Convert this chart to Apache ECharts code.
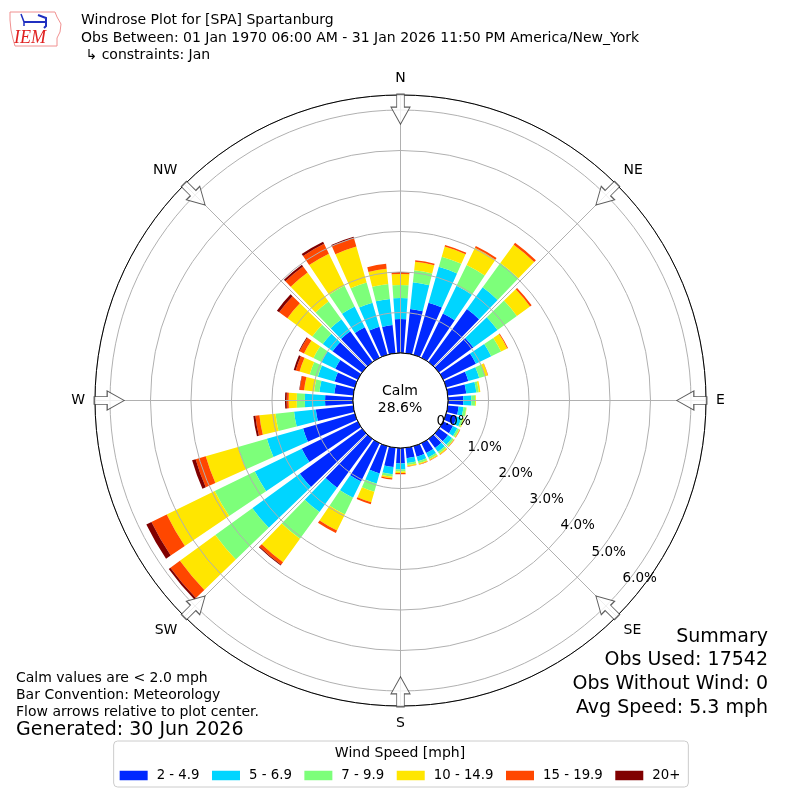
<!DOCTYPE html>
<html><head><meta charset="utf-8">
<script src="https://cdn.jsdelivr.net/npm/echarts@6/dist/echarts.min.js"></script>
<style>html,body{margin:0;padding:0;background:#fff}#c{width:800px;height:800px}</style>
</head><body><div id="c"></div>
<script>
// ---- data ----
const directions = ['0','10','20','30','40','50','60','70','80','90','100','110','120','130','140','150','160','170',
  '180','190','200','210','220','230','240','250','260','270','280','290','300','310','320','330','340','350'];
const speedBins = ['2 - 4.9','5 - 6.9','7 - 9.9','10 - 14.9','15 - 19.9','20+'];
// percent of observations per direction bin and speed bin
const s2to5   = [0.84,1.10,1.34,1.22,1.62,1.05,0.90,0.57,0.46,0.38,0.27,0.27,0.27,0.28,0.28,0.27,0.27,0.26,
                 0.38,0.48,0.70,1.05,1.49,1.90,1.54,1.33,0.93,0.69,0.47,0.52,0.62,0.90,0.94,0.84,0.72,0.70];
const s5to7   = [0.52,0.66,0.92,0.76,0.66,0.74,0.42,0.28,0.25,0.20,0.12,0.12,0.12,0.12,0.12,0.12,0.12,0.12,
                 0.15,0.18,0.26,0.45,0.74,1.45,1.29,0.93,0.54,0.50,0.37,0.43,0.38,0.30,0.37,0.57,0.62,0.65];
const s7to10  = [0.32,0.30,0.26,0.57,0.74,0.59,0.27,0.15,0.06,0.09,0.07,0.05,0.05,0.05,0.05,0.05,0.05,0.05,
                 0.05,0.06,0.21,0.46,0.82,1.13,1.10,0.74,0.46,0.20,0.13,0.21,0.22,0.32,0.54,0.57,0.52,0.37];
const s10to15 = [0.27,0.21,0.26,0.47,0.56,0.40,0.17,0.07,0.04,0.02,0.01,0.02,0.02,0.02,0.03,0.03,0.03,0.03,
                 0.04,0.04,0.27,0.44,0.71,1.08,1.32,0.83,0.40,0.20,0.25,0.26,0.26,0.76,0.88,0.88,0.92,0.38];
const s15to20 = [0.05,0.04,0.04,0.05,0.06,0.05,0.02,0.01,0.00,0.00,0.00,0.00,0.01,0.01,0.01,0.01,0.01,0.01,
                 0.03,0.03,0.05,0.07,0.08,0.29,0.42,0.26,0.10,0.05,0.11,0.10,0.12,0.25,0.19,0.27,0.22,0.12];
const s20plus = [0.00,0.00,0.00,0.00,0.00,0.00,0.00,0.00,0.00,0.00,0.00,0.00,0.00,0.00,0.00,0.00,0.00,0.00,
                 0.00,0.00,0.00,0.00,0.02,0.05,0.14,0.09,0.05,0.04,0.01,0.05,0.02,0.07,0.05,0.06,0.03,0.00];
const seriesValues = [s2to5, s5to7, s7to10, s10to15, s15to20, s20plus];
const binColors = ['#0029ff','#00d5ff','#7dff7a','#ffe600','#ff4700','#800000'];
const compassNames = ['N','NE','E','SE','S','SW','W','NW'];
const arrowDirs = [0,45,90,135,180,225,270,315];
const calmPct = '28.6%';
const titleLines = ['Windrose Plot for [SPA] Spartanburg',
  'Obs Between: 01 Jan 1970 06:00 AM - 31 Jan 2026 11:50 PM America/New_York',
  ' \u21b3 constraints: Jan'];
const noteLines = ['Calm values are < 2.0 mph','Bar Convention: Meteorology','Flow arrows relative to plot center.'];
const generated = 'Generated: 30 Jun 2026';
const summaryLines = ['Summary','Obs Used: 17542','Obs Without Wind: 0','Avg Speed: 5.3 mph'];

// ---- chart ----
const FONT = '"DejaVu Sans", sans-serif';
const C = [400.5, 400.5];
const R = [47.5, 305.5];
const RMAX = 6.37;
const chart = echarts.init(document.getElementById('c'), null, {renderer:'canvas'});
const hide = {axisLine:{show:false}, axisTick:{show:false}, axisLabel:{show:false}, splitLine:{show:false}};
const arrowPath = 'path://M6,0 L14,0 L14,13 L20,13 L10,30 L0,13 L6,13 Z';

const option = {
  animation:false,
  textStyle:{fontFamily:FONT},
  polar:[{center:C, radius:R},{center:C, radius:R},{center:C, radius:R}],
  angleAxis:[
    Object.assign({polarIndex:0, type:'category', data:directions, startAngle:95, clockwise:true, boundaryGap:true}, hide),
    {polarIndex:1, type:'value', min:0, max:360, interval:45, startAngle:90, clockwise:true, z:5,
     axisLine:{show:true, lineStyle:{color:'#000', width:1}}, axisTick:{show:false},
     axisLabel:{show:true, margin:10, fontSize:14, color:'#000', fontFamily:FONT,
       align:'center', verticalAlign:'middle',
       formatter:v => (v < 360 && compassNames[Math.round(v/45)] !== undefined) ? compassNames[Math.round(v/45)] : ''},
     splitLine:{show:true, lineStyle:{color:'#b0b0b0', width:1}}},
    Object.assign({polarIndex:2, type:'value', min:0, max:360, startAngle:-40, clockwise:true}, hide)
  ],
  radiusAxis:[
    Object.assign({polarIndex:0, type:'value', min:0, max:RMAX}, hide),
    {polarIndex:1, type:'value', min:0, max:RMAX, interval:1, z:4,
     axisLine:{show:false}, axisTick:{show:false}, axisLabel:{show:false},
     splitLine:{show:true, lineStyle:{color:'#b0b0b0', width:1}}},
    {polarIndex:2, type:'value', min:0, max:RMAX, interval:1, z:40,
     axisLine:{show:false}, axisTick:{show:false}, splitLine:{show:false},
     axisLabel:{show:true, showMaxLabel:false, margin:12, fontSize:13.5, color:'#000', fontFamily:FONT,
       align:'center', verticalAlign:'middle', padding:[16,0,0,18],
       formatter:v => Number.isInteger(v) ? v.toFixed(1) + '%' : ''}}
  ],
  legend:{
    left:'center', top:741, orient:'horizontal',
    padding:[28,8,5,6], itemGap:12.5, itemWidth:28, itemHeight:9.5,
    borderColor:'#cccccc', borderWidth:1, borderRadius:4,
    icon:'rect', data:speedBins,
    textStyle:{fontSize:13.3, color:'#000', fontFamily:FONT, padding:[0,0,0,4]}
  },
  series: speedBins.map((name, i) => ({
    name, type:'bar', coordinateSystem:'polar', polarIndex:0, stack:'wind',
    barWidth:'80%', z:2, silent:true,
    itemStyle:{color:binColors[i]},
    data:seriesValues[i]
  })).concat([{
    type:'scatter', coordinateSystem:'polar', polarIndex:1, z:20, silent:true,
    symbol:arrowPath, symbolSize:[19,30],
    itemStyle:{color:'#fff', borderColor:'#333', borderWidth:1},
    data: arrowDirs.map(a => ({value:[6.02, a], symbolRotate:-a}))
  }]),
  graphic:[
    {type:'circle', z:6, shape:{cx:C[0], cy:C[1], r:R[0]}, style:{fill:'#fff', stroke:'#000', lineWidth:1}},
    {type:'text', z:31, x:400, y:400, style:{text:'Calm\n' + calmPct, font:'14px ' + FONT, fill:'#000',
      textAlign:'center', textVerticalAlign:'middle', lineHeight:16.5}},
    {type:'text', z:31, x:81, y:12, style:{text:titleLines.join('\n'), font:'14px ' + FONT, fill:'#000',
      textAlign:'left', textVerticalAlign:'top', lineHeight:17.5}},
    {type:'text', z:31, x:16, y:670, style:{text:noteLines.join('\n'), font:'14px ' + FONT, fill:'#000',
      textAlign:'left', textVerticalAlign:'top', lineHeight:16.8}},
    {type:'text', z:31, x:16, y:721, style:{text:generated, font:'19px ' + FONT, fill:'#000',
      textAlign:'left', textVerticalAlign:'top'}},
    {type:'text', z:31, x:768, y:625, style:{text:summaryLines.join('\n'), font:'19px ' + FONT, fill:'#000',
      textAlign:'right', textVerticalAlign:'top', lineHeight:23.7}},
    {type:'text', z:31, x:400, y:753, style:{text:'Wind Speed [mph]', font:'14px ' + FONT, fill:'#000',
      textAlign:'center', textVerticalAlign:'middle'}},
    // IEM logo (approximate)
    {type:'polygon', z:31, shape:{points:[[10,12],[55,12],[57,17],[61,24],[60,32],[57,38],[57,46],[15,46],[13,39],[11,30],[10,20]]},
      style:{fill:'none', stroke:'#f09090', lineWidth:1}},
    {type:'text', z:31, x:14, y:38, style:{text:'IEM', font:'italic 18px "Liberation Serif", serif', fill:'#e02020',
      textAlign:'left', textVerticalAlign:'middle'}},
    {type:'polyline', z:31, shape:{points:[[21,14],[24,22],[24,26]]}, style:{stroke:'#2030c0', lineWidth:1.5, fill:'none'}},
    {type:'polyline', z:31, shape:{points:[[24,22],[46,22]]}, style:{stroke:'#2030c0', lineWidth:2, fill:'none'}},
    {type:'polyline', z:31, shape:{points:[[38,15],[46,18],[46,26],[44,28]]}, style:{stroke:'#2030c0', lineWidth:2, fill:'none'}}
  ]
};
chart.setOption(option);
</script>
</body></html>
